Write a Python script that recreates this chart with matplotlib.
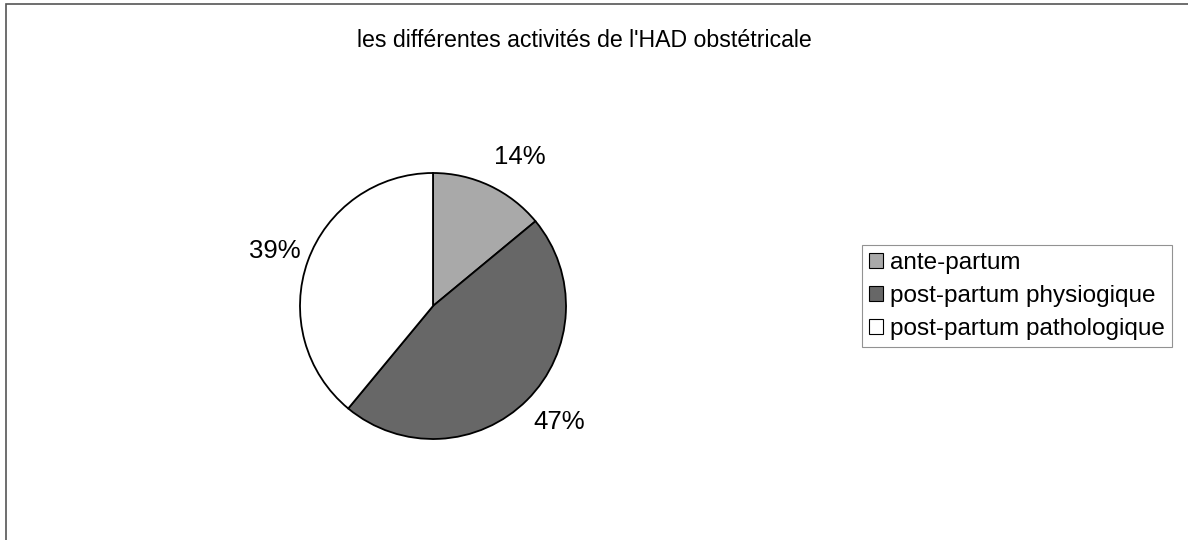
import matplotlib
matplotlib.use('Agg')
import matplotlib.pyplot as plt
from matplotlib.patches import Rectangle

plt.rcParams['font.family'] = ['Liberation Sans', 'DejaVu Sans']

categories = ['ante-partum', 'post-partum physiogique', 'post-partum pathologique']
values = [14, 47, 39]
colors = ['#a9a9a9', '#676767', '#ffffff']
# text anchor positions, in units of the pie radius
label_xy = [(0.65, 1.12), (0.95, -0.87), (-1.19, 0.41)]

W, H = 1188, 540
fig = plt.figure(figsize=(W / 100, H / 100), dpi=100)

# outer frame (only top and left edges visible in the scan)
fig.patches.append(Rectangle((6 / W, -0.1), 2.0, 1.1 - 4 / H, transform=fig.transFigure,
                             fill=False, edgecolor='#555555', linewidth=1.2))

fig.text(584 / W, 1 - 47 / H, "les différentes activités de l'HAD obstétricale",
         ha='center', va='baseline', fontsize=16.7)

cx, cy, r = 433, 306, 133
ax = fig.add_axes([(cx - r) / W, (H - cy - r) / H, 2 * r / W, 2 * r / H])
wedges, _ = ax.pie(values, colors=colors, startangle=90, counterclock=False,
                   wedgeprops=dict(edgecolor='black', linewidth=1.3))
ax.set_xlim(-1, 1)
ax.set_ylim(-1, 1)
ax.set_aspect('auto')
ax.axis('off')

for v, (tx, ty) in zip(values, label_xy):
    ax.text(tx, ty, f'{v}%', ha='center', va='center', fontsize=18.5, clip_on=False)

leg = fig.legend(wedges, categories, loc='upper left',
                 bbox_to_anchor=(862 / W, 1 - 245 / H), fontsize=17.5,
                 frameon=True, fancybox=False, edgecolor='#777777',
                 handlelength=0.55, handleheight=0.55, handletextpad=0.3,
                 labelspacing=0.45, borderpad=0.3, borderaxespad=0)
leg.get_frame().set_linewidth(0.8)
for h in leg.legend_handles:
    h.set_linewidth(0.8)

fig.savefig('out.png', dpi=100)
